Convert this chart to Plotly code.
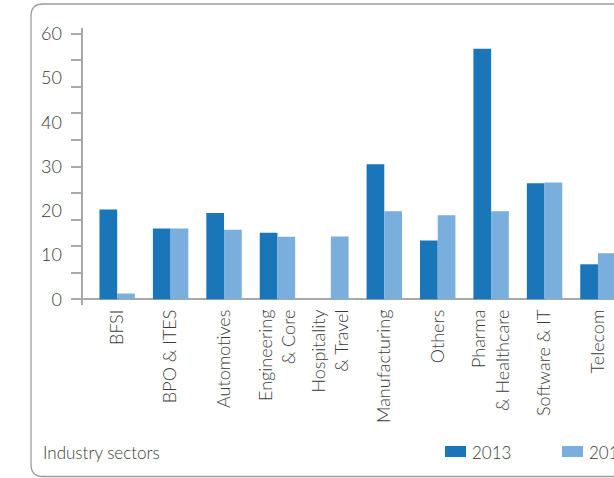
import plotly.graph_objects as go

# Hiring share by industry sector, two years side by side
sectors = [
    "BFSI", "BPO & ITES", "Automotives", "Engineering<br>& Core",
    "Hospitality<br>& Travel", "Manufacturing", "Others",
    "Pharma<br>& Healthcare", "Software & IT", "Telecom",
]
values_2013 = [20.3, 16.0, 19.5, 15.0, None, 30.5, 13.3, 56.6, 26.2, 7.9]
values_2014 = [1.3, 16.0, 15.7, 14.1, 14.2, 19.9, 19.0, 19.9, 26.4, 10.4]
series_names = ["2013", "2014"]
y_label_ticks = [0, 10, 20, 30, 40, 50, 60]
y_mark_ticks = [0, 6, 12, 18, 24, 30, 36, 42, 48, 54, 60]

DARK = "#1a76b9"
LIGHT = "#7aaedc"
TEXT = "#3a3a3a"
AXIS = "#a9a9a9"
FONT = "Lato"
WEIGHT = 300

W, H = 614, 478
ML, MR, MT, MB = 83, 0, 28, 173
PW, PH = W - ML - MR, H - MT - MB


def px_x(x):
    return (x - ML) / PW


def px_y(y):
    return (H - MB - y) / PH


fig = go.Figure()
fig.add_trace(go.Bar(x=sectors, y=values_2013, name=series_names[0],
                     marker=dict(color=DARK, line=dict(width=0))))
fig.add_trace(go.Bar(x=sectors, y=values_2014, name=series_names[1],
                     marker=dict(color=LIGHT, line=dict(width=0))))

y_range = [-1.3, 61.3]

# rounded frame around the whole chart
x0, x1 = px_x(31), px_x(660)
y0, y1 = px_y(476.5), px_y(4)
rx, ry = 12 / PW, 12 / PH
frame = (f"M {x0 + rx} {y1} L {x1} {y1} L {x1} {y0} L {x0 + rx} {y0} "
         f"Q {x0} {y0} {x0} {y0 + ry} L {x0} {y1 - ry} Q {x0} {y1} {x0 + rx} {y1} Z")

text_font = dict(family=FONT, size=17, color=TEXT, weight=WEIGHT)

shapes = [dict(type="path", xref="paper", yref="paper", path=frame,
               line=dict(color="#9a9a9a", width=1.3), layer="below")]
annotations = [dict(text="Industry sectors", xref="paper", yref="paper",
                    x=px_x(41), y=px_y(452), xanchor="left", yanchor="middle",
                    showarrow=False, font=text_font)]

# legend row along the bottom: colour key then year
legend_left = [445, 562]
for name, color, left in zip(series_names, [DARK, LIGHT], legend_left):
    shapes.append(dict(type="rect", xref="paper", yref="paper",
                       x0=px_x(left), x1=px_x(left + 21),
                       y0=px_y(457), y1=px_y(446),
                       fillcolor=color, line=dict(width=0)))
    annotations.append(dict(text=name, xref="paper", yref="paper",
                            x=px_x(left + 25), y=px_y(452),
                            xanchor="left", yanchor="middle", showarrow=False,
                            font=text_font))

fig.update_layout(
    width=W, height=H,
    margin=dict(l=ML, r=MR, t=MT, b=MB),
    paper_bgcolor="white", plot_bgcolor="white",
    font=dict(family=FONT, color=TEXT, size=18, weight=WEIGHT),
    barmode="group", bargap=0.337, bargroupgap=0,
    showlegend=False,
    xaxis=dict(
        type="category", range=[-0.64, 9.30],
        tickangle=-90, showline=False, showgrid=False, zeroline=False,
        ticks="", tickfont=dict(family=FONT, size=18, color=TEXT, weight=WEIGHT),
        ticklabelstandoff=0,
    ),
    yaxis=dict(
        range=y_range, tickvals=y_mark_ticks, showticklabels=False,
        ticks="outside", ticklen=10, tickwidth=1.5, tickcolor=AXIS,
        showline=True, linecolor=AXIS, linewidth=1.5,
        showgrid=False, zeroline=True, zerolinecolor=AXIS, zerolinewidth=2,
    ),
    yaxis2=dict(
        range=y_range, overlaying="y", side="left", anchor="x",
        tickvals=y_label_ticks, ticks="", showline=False, showgrid=False,
        zeroline=False,
        tickfont=dict(family=FONT, size=18, color=TEXT, weight=WEIGHT),
        ticklabelstandoff=20,
    ),
    shapes=shapes,
    annotations=annotations,
)

# invisible trace so the label axis is drawn
fig.add_trace(go.Scatter(x=[sectors[0]], y=[0], yaxis="y2", mode="markers",
                         marker=dict(opacity=0), showlegend=False,
                         hoverinfo="skip"))

fig.write_html("out.html")
